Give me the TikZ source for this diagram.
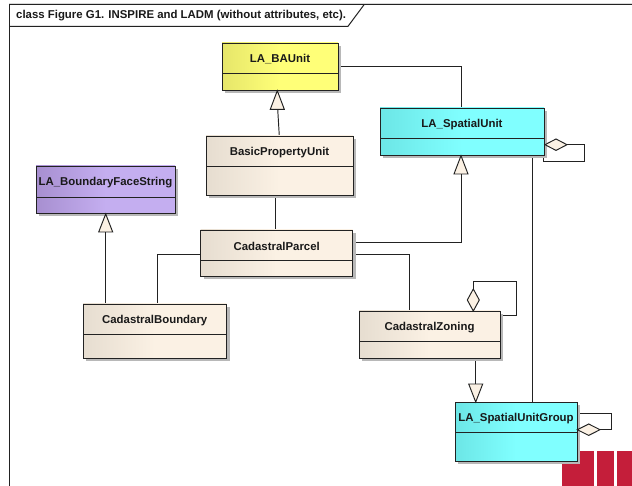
\documentclass[tikz,border=0pt]{standalone}
\usepackage{fontspec}
\setmainfont{Liberation Sans}
\usetikzlibrary{calc}
\definecolor{edge}{HTML}{222222}
\definecolor{shadowc}{HTML}{B8B8B8}
\definecolor{creamL}{HTML}{E6DDD0}\definecolor{creamR}{HTML}{FBF1E4}
\definecolor{yelL}{HTML}{E6E66A}\definecolor{yelR}{HTML}{FFFF78}
\definecolor{cyaL}{HTML}{6CE6E6}\definecolor{cyaR}{HTML}{80FFFF}
\definecolor{purL}{HTML}{A78FD0}\definecolor{purR}{HTML}{C4AEF0}
\definecolor{logo}{HTML}{C41E3A}
\tikzset{
 conn/.style={draw=edge,line width=.95pt},
 tipfill/.style={draw=edge,line width=.95pt,fill=creamR,line join=miter},
 lbl/.style={font=\bfseries\fontsize{11.4}{13}\selectfont,text=black!90,inner sep=0pt}
}
% name, x0,y0,x1,y1,divider y,left col,right col,label
\newcommand{\umlbox}[9]{%
 \fill[shadowc] (#2+3,#3+3) rectangle (#4+3,#5+3);
 \shade[left color=#7,right color=#8,middle color=#8] (#2,#3) rectangle (#4,#5);
 \draw[edge,line width=.9pt] (#2,#3) rectangle (#4,#5);
 \draw[edge,line width=.95pt] (#2,#6) -- (#4,#6);
 \coordinate (#1) at ({(#2+#4)/2},{(#3+#5)/2});
 \node[lbl] (#1t) at ({(#2+#4)/2},{(#3+#6)/2+1.2}) {#9};
}
\newcommand{\gentip}[3]{% apex x,y ; base y
 \draw[tipfill] (#1,#2) -- (#1-7,#3) -- (#1+7,#3) -- cycle;}
\begin{document}
\begin{tikzpicture}[x=1pt,y=-1pt]
\useasboundingbox (0,0) rectangle (632,486);
\fill[white] (0,0) rectangle (632,486);
% logo
\fill[logo] (562,451) rectangle (594,486);
\fill[logo] (597,451) rectangle (614,486);
\fill[logo] (617,451) rectangle (632,486);
% frame
\draw[black!15,line width=1pt] (9.3,3.8) -- (632,3.8);
\draw[edge,line width=1pt] (9.3,486) -- (9.3,4.8) -- (632,4.8);
\draw[edge,line width=1pt] (9.3,26.3) -- (348,26.3) -- (364,4.8);
\node[lbl,anchor=west] (title) at (16,15.5) {class Figure G1. INSPIRE and LADM (without attributes, etc).};
% connectors under boxes
\coordinate (a1) at (338,66.3);\coordinate (a2) at (461,66.3);\coordinate (a3) at (461,108);
\draw[conn] (a1) -- (a2) -- (a3);
\coordinate (b1) at (279.3,136);\coordinate (b2) at (277.7,109);
\draw[conn] (b1) -- (b2);
\coordinate (c1) at (275.3,195);\coordinate (c2) at (275.3,230);
\draw[conn] (c1) -- (c2);
\coordinate (d1) at (353,242.7);\coordinate (d2) at (461,242.7);\coordinate (d3) at (461,174);
\draw[conn] (d1) -- (d2) -- (d3);
\coordinate (e1) at (200.7,254);\coordinate (e2) at (157,254);\coordinate (e3) at (157,304);
\draw[conn] (e1) -- (e2) -- (e3);
\coordinate (f1) at (105.7,304);\coordinate (f2) at (105.7,232);
\draw[conn] (f1) -- (f2);
\coordinate (g1) at (353,254);\coordinate (g2) at (409.3,254);\coordinate (g3) at (409.3,311);
\draw[conn] (g1) -- (g2) -- (g3);
\coordinate (h1) at (532.3,155);\coordinate (h2) at (532.3,402);
\draw[conn] (h1) -- (h2);
\coordinate (i1) at (475.7,358);\coordinate (i2) at (475.7,384);
\draw[conn] (i1) -- (i2);
% self loops
\coordinate (j1) at (473.3,289);\coordinate (j2) at (473.3,281.3);\coordinate (j3) at (516.7,281.3);\coordinate (j4) at (516.7,315.7);\coordinate (j5) at (500,315.7);
\draw[conn] (j1) -- (j2) -- (j3) -- (j4) -- (j5);
\coordinate (k1) at (567,144.7);\coordinate (k2) at (584,144.7);\coordinate (k3) at (584,161.3);\coordinate (k4) at (543.7,161.3);\coordinate (k5) at (543.7,155);
\draw[conn] (k1) -- (k2) -- (k3) -- (k4) -- (k5);
\coordinate (l1) at (577,413);\coordinate (l2) at (611,413);\coordinate (l3) at (611,429.7);\coordinate (l4) at (600,429.7);
\draw[conn] (l1) -- (l2) -- (l3) -- (l4);
% boxes
\umlbox{ba}{222}{43}{338}{90}{73}{yelL}{yelR}{LA\_BAUnit}
\umlbox{bpu}{206}{136}{353}{195}{166}{creamL}{creamR}{BasicPropertyUnit}
\umlbox{su}{380}{108}{544}{155}{138}{cyaL}{cyaR}{LA\_SpatialUnit}
\umlbox{bfs}{36}{166}{175}{213}{197}{purL}{purR}{LA\_BoundaryFaceString}
\umlbox{cp}{200.7}{230}{352.7}{276}{260.3}{creamL}{creamR}{CadastralParcel}
\umlbox{cb}{83}{304}{226.5}{358}{334}{creamL}{creamR}{CadastralBoundary}
\umlbox{cz}{359}{311}{500}{358}{341}{creamL}{creamR}{CadastralZoning}
\umlbox{sug}{455}{402}{577}{461}{432}{cyaL}{cyaR}{LA\_SpatialUnitGroup}
% arrow tips
\gentip{277.3}{90.7}{109.3}
\gentip{461}{155.7}{174}
\gentip{105.7}{214}{232}
\gentip{475.7}{402}{384}
% diamonds
\draw[tipfill] (473.3,311) -- (467.3,300) -- (473.3,289) -- (479.3,300) -- cycle;
\draw[tipfill] (545,144.7) -- (556,139) -- (567,144.7) -- (556,150.4) -- cycle;
\draw[tipfill] (577.3,429.7) -- (588.7,424) -- (600,429.7) -- (588.7,435.4) -- cycle;
\end{tikzpicture}
\end{document}
